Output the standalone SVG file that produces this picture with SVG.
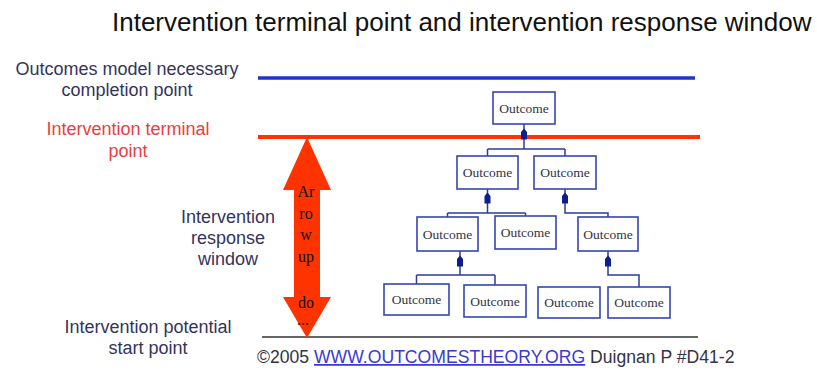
<svg xmlns="http://www.w3.org/2000/svg" width="817" height="372" viewBox="0 0 817 372">
  <style>
    .lbl { font-family: "Liberation Sans", Arial, sans-serif; font-size: 18px; text-anchor: middle; fill: #34345a; }
    .red { fill: #ee3c3c; }
    .box rect { fill: #ffffff; stroke: #3445b0; stroke-width: 1.6; }
    .box text { font-family: "Liberation Serif", "Times New Roman", serif; font-size: 13.5px; text-anchor: middle; fill: #33333f; }
    .wire { fill: none; stroke: #2c3b96; stroke-width: 1.5; }
    .tip { fill: #0b1e8c; }
    .aw { font-family: "Liberation Serif", "Times New Roman", serif; font-size: 16px; text-anchor: middle; fill: #111111; }
  </style>
  <defs>
    <!-- small filled arrow pointing up toward the parent box -->
    <path id="up" d="M0,0 L3,3.5 L3,11 L-3,11 L-3,3.5 Z"/>
  </defs>

  <rect width="817" height="372" fill="#ffffff"/>

  <!-- title -->
  <text x="112" y="31" font-family="'Liberation Sans', Arial, sans-serif" font-size="26" fill="#111111">Intervention terminal point and intervention response window</text>

  <!-- reference lines -->
  <line x1="258" y1="78" x2="695" y2="78" stroke="#1f35c8" stroke-width="3.5"/>
  <line x1="258" y1="137" x2="700" y2="137" stroke="#ff3300" stroke-width="4"/>
  <line x1="262" y1="337" x2="698" y2="337" stroke="#333333" stroke-width="1.5"/>

  <!-- left-hand labels -->
  <g id="label-completion">
    <text class="lbl" x="127" y="75">Outcomes model necessary</text>
    <text class="lbl" x="127" y="96">completion point</text>
  </g>
  <g id="label-terminal">
    <text class="lbl red" x="128" y="135">Intervention terminal</text>
    <text class="lbl red" x="128" y="157">point</text>
  </g>
  <g id="label-window">
    <text class="lbl" x="228" y="223">Intervention</text>
    <text class="lbl" x="228" y="244">response</text>
    <text class="lbl" x="228" y="265">window</text>
  </g>
  <g id="label-start">
    <text class="lbl" x="148" y="333">Intervention potential</text>
    <text class="lbl" x="148" y="354">start point</text>
  </g>

  <!-- double-headed response window arrow -->
  <g id="window-arrow">
    <polygon points="307,137 331,190 320,190 320,297 331,297 307,338 283,297 294,297 294,190 283,190" fill="#ff3300"/>
    <text class="aw" x="306" y="197">Ar</text>
    <text class="aw" x="306" y="219">ro</text>
    <text class="aw" x="306" y="240">w</text>
    <text class="aw" x="306" y="262">up</text>
    <text class="aw" x="306" y="308">do</text>
    <text class="aw" x="303" y="325">...</text>
  </g>

  <!-- connectors -->
  <g id="connectors">
    <path class="wire" d="M524,124 V149 M487.5,149 H565 M487.5,149 V156 M565,149 V156"/>
    <use href="#up" class="tip" x="524" y="128.5"/>
    <path class="wire" d="M487.5,189 V213 M447.5,213 H525.5 M447.5,213 V217 M525.5,213 V216"/>
    <use href="#up" class="tip" x="487.5" y="192.5"/>
    <path class="wire" d="M565,189 V213 H608 V217"/>
    <use href="#up" class="tip" x="565" y="192.5"/>
    <path class="wire" d="M460,251 V275 M416.5,275 H495 M416.5,275 V284 M495,275 V285"/>
    <use href="#up" class="tip" x="460" y="255.5"/>
    <path class="wire" d="M608,251 V275 H639 V287"/>
    <use href="#up" class="tip" x="608" y="255.5"/>
  </g>

  <!-- outcome boxes -->
  <g id="outcome-top" class="box"><rect x="493" y="92" width="62" height="32"/><text x="524" y="112.5">Outcome</text></g>
  <g id="outcome-2a" class="box"><rect x="457" y="156" width="61" height="33"/><text x="487.5" y="177">Outcome</text></g>
  <g id="outcome-2b" class="box"><rect x="534" y="156" width="62" height="33"/><text x="565" y="177">Outcome</text></g>
  <g id="outcome-3a" class="box"><rect x="417" y="217" width="61" height="34"/><text x="447.5" y="238.5">Outcome</text></g>
  <g id="outcome-3b" class="box"><rect x="495" y="216" width="61" height="33"/><text x="525.5" y="237">Outcome</text></g>
  <g id="outcome-3c" class="box"><rect x="578" y="217" width="60" height="34"/><text x="608" y="238.5">Outcome</text></g>
  <g id="outcome-4a" class="box"><rect x="384" y="284" width="65" height="31"/><text x="416.5" y="304">Outcome</text></g>
  <g id="outcome-4b" class="box"><rect x="464" y="285" width="62" height="32"/><text x="495" y="305.5">Outcome</text></g>
  <g id="outcome-4c" class="box"><rect x="538" y="287" width="62" height="31"/><text x="569" y="307">Outcome</text></g>
  <g id="outcome-4d" class="box"><rect x="608" y="287" width="62" height="31"/><text x="639" y="307">Outcome</text></g>

  <!-- footer -->
  <text x="257" y="363" font-family="'Liberation Sans', Arial, sans-serif" font-size="17.6" fill="#333344">©2005 <tspan fill="#3a3ad0" text-decoration="underline">WWW.OUTCOMESTHEORY.ORG</tspan> Duignan P #D41-2</text>
</svg>
